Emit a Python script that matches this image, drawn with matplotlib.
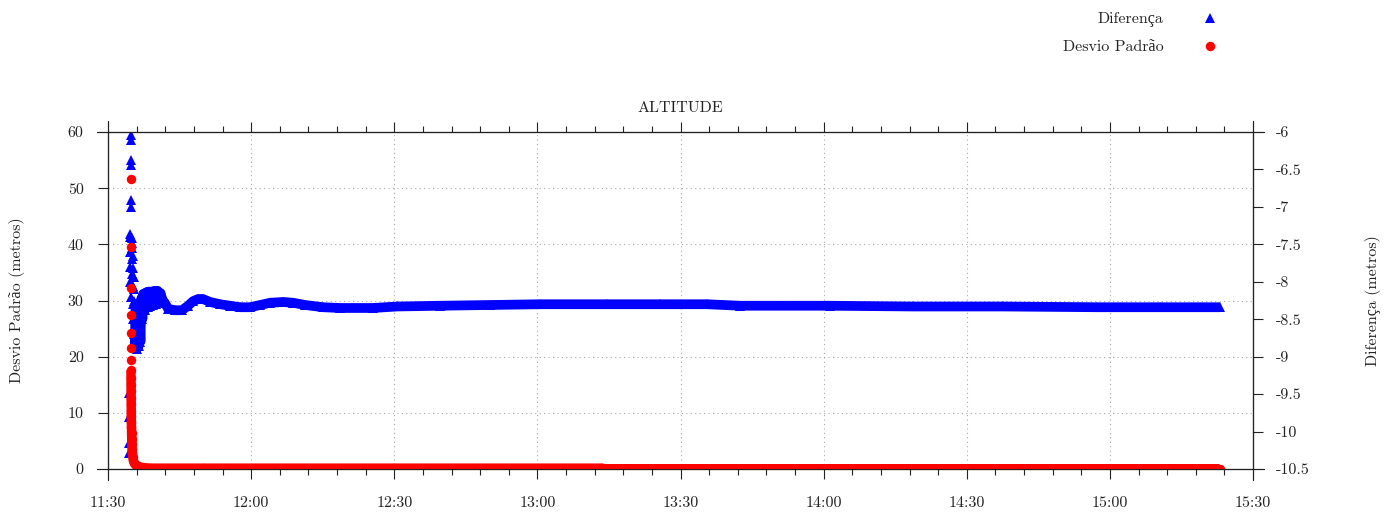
import matplotlib
matplotlib.use("Agg")
import matplotlib.pyplot as plt
from matplotlib.lines import Line2D
from matplotlib.ticker import FuncFormatter, MultipleLocator

plt.rcParams['font.family'] = ['cmr10', 'Liberation Serif', 'DejaVu Serif']
plt.rcParams['font.size'] = 11.5

# minutes after 11:30
# Diferenca (right axis, metros): scattered first readings
dif_spike_t = [4.35, 4.40, 4.45, 4.50, 4.55, 4.58, 4.62, 4.66, 4.70, 4.72, 4.74, 4.76, 4.80,
               4.84, 4.88, 4.92, 4.96, 5.00, 5.04, 5.08, 5.12, 5.16, 5.20, 5.24, 5.28, 5.32,
               5.36, 5.40, 5.45, 5.50, 5.55]
dif_spike_v = [-10.29, -9.49, -10.15, -9.81, -7.80, -7.40, -8.00, -7.60, -7.36, -8.20, -6.91,
               -6.04, -6.11, -6.37, -6.44, -7.00, -7.48, -7.70, -7.42, -7.90, -7.55, -8.06,
               -7.66, -8.30, -7.82, -8.50, -7.94, -8.70, -8.10, -8.85, -8.25]
# Diferenca: rest of the track
dif_t = [5.6, 5.8, 6.0, 6.2, 6.4, 6.6, 6.8, 7.0, 7.2, 7.4, 7.7, 8.0, 8.3, 8.6, 8.9, 9.2, 9.5,
         9.8, 10.1, 10.4, 10.7, 11.0, 11.4, 11.9, 12.6, 14.0, 15.5, 16.8, 17.8, 18.9, 19.9,
         21.4, 23.5, 25.6, 27.7, 29.8, 31.9, 34.0, 36.7, 38.8, 41.3, 45.1, 48.6, 55.5, 60.6,
         69.6, 80.1, 90.6, 104.6, 115.7, 125.6, 132.5, 151.3, 168.7, 187.6, 207.3, 220.5, 233.1]
dif_v = [-8.88, -8.30, -8.90, -8.45, -8.86, -8.35, -8.80, -8.22, -8.50, -8.16, -8.38, -8.14,
         -8.34, -8.13, -8.32, -8.13, -8.31, -8.12, -8.30, -8.12, -8.27, -8.15, -8.24, -8.28,
         -8.36, -8.38, -8.38, -8.32, -8.26, -8.23, -8.23, -8.27, -8.30, -8.32, -8.34, -8.34,
         -8.31, -8.28, -8.27, -8.28, -8.31, -8.34, -8.35, -8.35, -8.33, -8.32, -8.31, -8.30,
         -8.30, -8.30, -8.30, -8.32, -8.32, -8.33, -8.33, -8.34, -8.34, -8.34]

# Desvio Padrao (left axis, metros)
dp_spike_t = [4.74, 4.75, 4.76, 4.77, 4.78, 4.79, 4.80]
dp_spike_v = [51.6, 39.6, 32.2, 27.4, 24.2, 21.5, 19.4]
dp_t = [4.81, 4.82, 4.83, 4.84, 4.85, 4.86, 4.87, 4.88, 4.90, 4.92, 4.94, 4.97, 5.00, 5.04,
        5.10, 5.18, 5.30, 5.50, 5.80, 6.30, 7.30, 9.0, 20.0, 60.0, 103.5, 104.0, 150.0,
        200.0, 233.0]
dp_v = [17.6, 16.2, 15.0, 13.8, 12.6, 11.5, 10.4, 9.4, 8.4, 7.4, 6.4, 5.4, 4.5, 3.6, 2.8,
        2.2, 1.6, 1.1, 0.7, 0.45, 0.25, 0.15, 0.15, 0.15, 0.15, 0.05, 0.05, 0.05, 0.05]

blue = '#0000ff'
red = '#ff0000'
ink = '#222222'

fig = plt.figure(figsize=(13.97, 5.16), dpi=100)
ax = fig.add_axes([108 / 1397, 1 - 469 / 516, 1145 / 1397, 337 / 516])
ax2 = ax.twinx()

# blue on right axis
ax2.plot(dif_spike_t, dif_spike_v, ls='none', marker='^', ms=6.8, color=blue, mew=0)
ax2.plot(dif_t, dif_v, ls='-', lw=7, marker='^', ms=6.8, color=blue, mew=0,
         solid_capstyle='butt', solid_joinstyle='round')
# red on left scale, drawn in the upper layer
ax2.plot(dp_spike_t, dp_spike_v, ls='none', marker='o', ms=6.8, color=red, mew=0,
         transform=ax.transData)
ax2.plot(dp_t, dp_v, ls='-', lw=6.8, marker='o', ms=6.8, color=red, mew=0,
         solid_capstyle='butt', solid_joinstyle='round', transform=ax.transData)

ax.set_xlim(0, 240)
ax2.set_xlim(0, 240)
ax.set_ylim(0, 60)
ax2.set_ylim(-10.5, -6)

ax.xaxis.set_major_locator(MultipleLocator(30))
ax.xaxis.set_minor_locator(MultipleLocator(6))
ax.xaxis.set_major_formatter(FuncFormatter(
    lambda m, _: f'{11 + int((m + 30) // 60)}:{int((m + 30) % 60):02d}'))
ax.yaxis.set_major_locator(MultipleLocator(10))
ax2.yaxis.set_major_locator(MultipleLocator(0.5))
ax2.yaxis.set_major_formatter(FuncFormatter(lambda v, _: f'{v:g}'))

ax.tick_params(axis='x', which='both', direction='out', top=True, colors=ink)
ax.tick_params(axis='x', which='major', length=7.5, width=0.8, pad=12)
ax.tick_params(axis='x', which='minor', length=4.3, width=0.8)
ax.tick_params(axis='y', direction='out', length=7.5, width=0.8, pad=10, colors=ink)
ax2.tick_params(axis='y', direction='out', length=7.5, width=0.8, pad=9, colors=ink)
ax2.tick_params(axis='x', which='both', bottom=False, top=False, labelbottom=False)

ax.grid(True, which='major', color='#aaaaaa', lw=0.8, ls=(0, (1, 3)))
for a in (ax, ax2):
    for s in a.spines.values():
        s.set_color(ink)
        s.set_linewidth(0.8)

# axis lines run a little past the corners
dx = 11 / 1145
dy = 11 / 337
for xs, ys in [([-dx, 1 + dx], [0, 0]), ([-dx, 1 + dx], [1, 1]),
               ([0, 0], [-dy, 1 + dy]), ([1, 1], [-dy, 1 + dy])]:
    ax.add_line(Line2D(xs, ys, transform=ax.transAxes, clip_on=False, color=ink, lw=0.8))

ax.set_title('ALTITUDE', y=(469 - 112) / 337, pad=0, fontsize=11.5, color=ink)
ax.set_ylabel('Desvio Padrão (metros)', color=ink)
ax.yaxis.set_label_coords((25 - 108) / 1145, 0.5)
ax2.set_ylabel('Diferença (metros)', color=ink)
ax2.yaxis.set_label_coords((1365 - 108) / 1145, 0.5)

h1 = Line2D([], [], ls='none', marker='^', ms=6.8, color=blue, mew=0)
h2 = Line2D([], [], ls='none', marker='o', ms=6.8, color=red, mew=0)
leg = fig.legend([h1, h2], ['Diferença', 'Desvio Padrão'], loc='upper right',
                 bbox_to_anchor=(1226 / 1397, 1 - 12 / 516), frameon=False, markerfirst=False,
                 handlelength=2, handletextpad=1.9, borderpad=0, borderaxespad=0,
                 labelspacing=0.8)
for t in leg.get_texts():
    t.set_color(ink)

fig.savefig('out.png', dpi=100)
